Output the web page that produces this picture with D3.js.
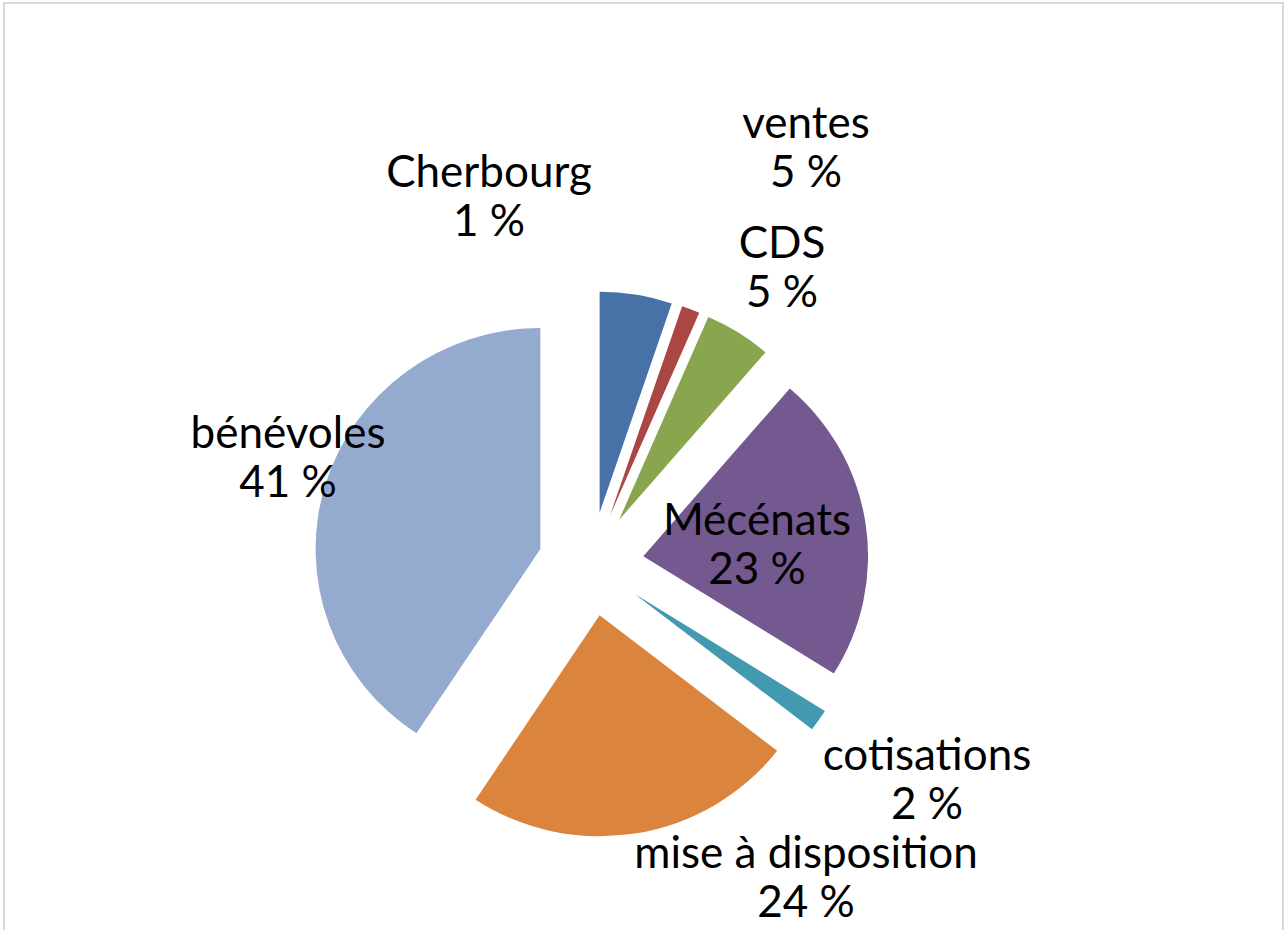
<!DOCTYPE html>
<html>
<head>
<meta charset="utf-8">
<script src="https://cdn.jsdelivr.net/npm/d3@7"></script>
<style>
  html, body { margin: 0; padding: 0; background: #fff; }
  svg { display: block; }
</style>
</head>
<body>
<svg id="chart" width="1285" height="930"></svg>
<script>
// ---- data ----
const categories = ["ventes", "Cherbourg", "CDS", "Mécénats", "cotisations", "mise à disposition", "bénévoles"];
const values = [5.2, 1.3, 4.8, 22.6, 1.6, 23.8, 40.7];
const colors = ["#4672A8", "#AA4744", "#89A54E", "#73598F", "#4299B0", "#DB843D", "#95AACF"];

// ---- layout ----
const W = 1285, H = 930;
const cx = 591, cy = 564, R = 221, explode = 52, xStretch = 1.017;
const fontSize = 44, lineGap = 48.5;
// label anchor (center x, first baseline) relative to the pie center
const labelOffsets = [
  [215, -426], [-102, -377], [191, -306], [166, -29], [336, 206], [215, 304], [-303, -116]
];

const svg = d3.select("#chart");
svg.append("rect")
  .attr("x", 4).attr("y", 3).attr("width", 1279).attr("height", 960)
  .attr("fill", "#fff").attr("stroke", "#d9d9d9").attr("stroke-width", 2);

const total = d3.sum(values);
const pie = d3.pie().sort(null).value(d => d)(values);
const arc = d3.arc().innerRadius(0).outerRadius(R);

const g = svg.append("g").attr("transform", `translate(${cx},${cy})`);
const slices = g.append("g").attr("transform", `scale(${xStretch},1)`);
slices.selectAll("path.slice").data(pie).join("path")
  .attr("class", "slice")
  .attr("d", arc)
  .attr("fill", (d, i) => colors[i])
  .attr("transform", d => {
    const m = (d.startAngle + d.endAngle) / 2;
    return `translate(${Math.sin(m) * explode},${-Math.cos(m) * explode})`;
  });

const labels = g.selectAll("text.lbl").data(pie).join("text")
  .attr("class", "lbl")
  .attr("text-anchor", "middle")
  .attr("font-family", "Lato, 'Open Sans', sans-serif")
  .attr("font-size", fontSize)
  .attr("fill", "#000")
  .attr("transform", (d, i) => `translate(${labelOffsets[i][0]},${labelOffsets[i][1]})`);
labels.append("tspan").attr("x", 0).attr("y", 0).text((d, i) => categories[i]);
labels.append("tspan").attr("x", 0).attr("y", lineGap)
  .text(d => Math.round(d.value / total * 100) + " %");
</script>
</body>
</html>
